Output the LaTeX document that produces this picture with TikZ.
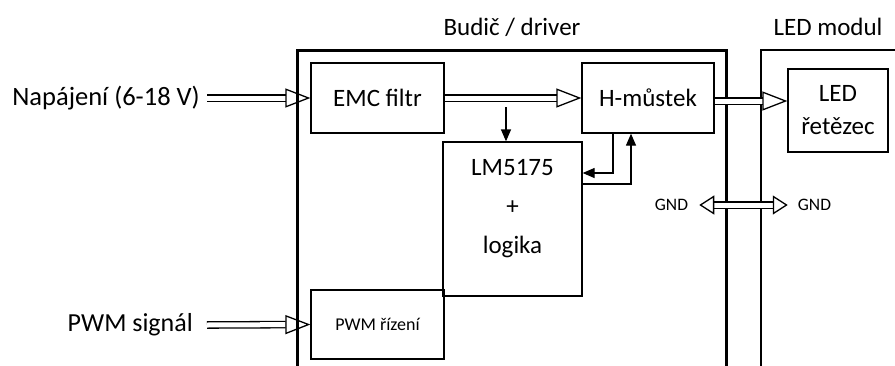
\documentclass[tikz,border=0pt]{standalone}
\usepackage{fontspec}
\setmainfont{Carlito}
\usetikzlibrary{arrows.meta,positioning}

\begin{document}
\begin{tikzpicture}[
  x=1pt, y=-1pt,
  blk/.style={draw, line width=1.3pt, inner sep=0pt, align=center, font=\fontsize{25}{28}\selectfont},
  lbl/.style={inner sep=0pt, font=\fontsize{25}{28}\selectfont},
  small/.style={inner sep=0pt, font=\fontsize{17.5}{20}\selectfont},
  hollow/.style={double, double distance=5pt, line width=1.3pt, -{Triangle[open, length=25pt, width=19pt, line width=1.3pt]}},
  hollow2/.style={double, double distance=5pt, line width=1.3pt, {Triangle[open, length=15pt, width=19pt, line width=1.3pt]}-{Triangle[open, length=15pt, width=19pt, line width=1.3pt]}},
  arrow/.style={-{Triangle[length=12pt, width=10pt]}, line width=1.3pt}
]
\useasboundingbox (0,0) rectangle (895,365);
% frames
\draw[line width=3pt] (297,380) -- (297,50) -- (726,50) -- (726,380);
\draw[line width=1.3pt] (900,50) -- (761,50) -- (761,380);
\node[lbl] (drvTitle) at (512,27) {Budič / driver};
\node[lbl] (ledTitle) at (828,27) {LED modul};
% blocks
\node[blk, minimum width=133, minimum height=70] (emc) at (377.5,98) {EMC filtr};
\node[blk, minimum width=132, minimum height=70] (hBridge) at (648,98) {H-můstek};
\node[blk, minimum width=139, minimum height=154] (lm) at (512.5,219) {LM5175\\[11pt]+\\[11pt]logika\\[-2pt]\mbox{}};
\node[blk, minimum width=100, minimum height=83, font=\fontsize{25}{33}\selectfont] (ledStr) at (838,110.5) {LED\\řetězec};
\node[blk, minimum width=133, minimum height=69, font=\fontsize{18}{20}\selectfont] (pwmCtl) at (377.5,324.5) {PWM řízení};
% inputs
\node[lbl, anchor=east, font=\fontsize{26.5}{30}\selectfont] (supply) at (200,98) {Napájení (6-18 V)};
\node[lbl, anchor=east, font=\fontsize{26}{30}\selectfont] (pwmIn) at (193,325) {PWM signál};
\node[small] (gndL) at (671.5,205) {GND};
\node[small] (gndR) at (814.5,205) {GND};
\coordinate (tap) at (506,107);
% connectors
\draw[hollow] ([xshift=7pt]supply.east) -- (emc.west);
\draw[hollow] ([xshift=14pt]pwmIn.east) -- (pwmCtl.west);
\draw[hollow] (emc.east) -- (hBridge.west);
\draw[hollow] ([yshift=-3pt]hBridge.east) -- ([yshift=-3pt]hBridge.east -| ledStr.west);
\draw[hollow2] ([xshift=11pt]gndL.east) -- ([xshift=-10pt]gndR.west);
\draw[arrow] (tap) -- (tap |- lm.north);
\draw[arrow] ([xshift=-35pt]hBridge.south) |- ([yshift=46pt]lm.east);
\draw[arrow] ([yshift=35pt]lm.east) -| ([xshift=-17pt]hBridge.south);
\end{tikzpicture}
\end{document}
